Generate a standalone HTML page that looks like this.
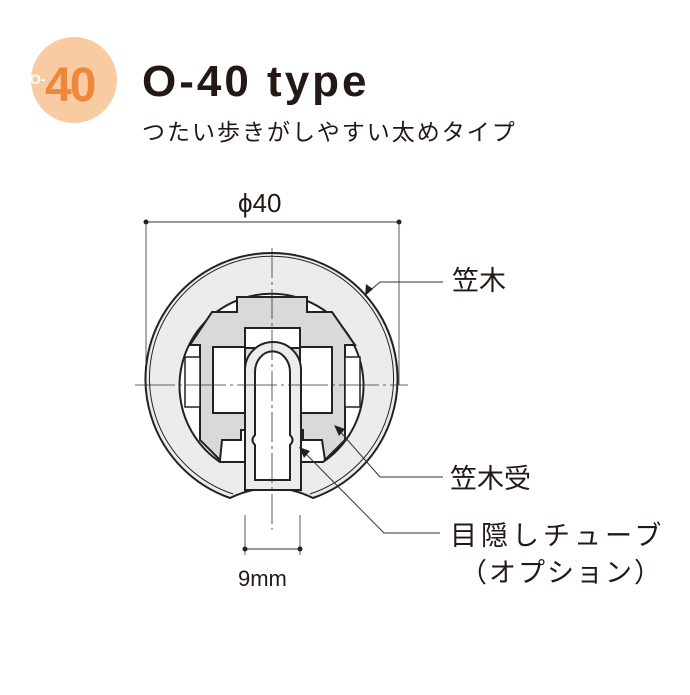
<!DOCTYPE html>
<html><head><meta charset="utf-8"><style>
body{margin:0;background:#fff;width:690px;height:690px;overflow:hidden}
</style></head><body>
<svg width="690" height="690" xmlns="http://www.w3.org/2000/svg" font-family="'Liberation Sans','Noto Sans CJK JP',sans-serif">
<circle cx="74" cy="80" r="43" fill="#f9cba3"/>
<text x="30" y="84" font-size="14" fill="#fff" font-weight="bold">O-</text>
<text x="45" y="101" font-size="48" fill="#ee873a" font-weight="bold" letter-spacing="-2">40</text>
<text x="142" y="96" font-size="44" font-weight="bold" fill="#231815" letter-spacing="3">O-40 type</text>
<text x="142" y="140" font-size="23" fill="#231815" letter-spacing="2">つたい歩きがしやすい太めタイプ</text>

<text x="238" y="212" font-size="26" fill="#231815">ϕ40</text>
<line x1="146" y1="222" x2="399" y2="222" stroke="#333" stroke-width="1"/>
<circle cx="146" cy="222" r="2.5" fill="#222"/><circle cx="399" cy="222" r="2.5" fill="#222"/>
<line x1="146" y1="222" x2="146" y2="385" stroke="#333" stroke-width="0.8"/>
<line x1="399" y1="222" x2="399" y2="385" stroke="#333" stroke-width="0.8"/>

<path d="M230,498 A126,126 0 1 1 313,498 Q272,478 230,498 Z" fill="#ececec" stroke="#222" stroke-width="2"/>
<path d="M233,494 A122,122 0 1 1 310,494" fill="none" stroke="#222" stroke-width="1"/>
<path d="M220,462 A92,92 0 1 1 323,462 L300,462 L300,490 Q272,482 245,490 L245,462 Z" fill="#fff" stroke="#222" stroke-width="2"/>
<path d="M212,312 L237,312 L237,297 L307,297 L307,312 L332,312 L355,345 L345,345 L345,410 L345,440 L325,460 L322,440 L303,440 L303,430 L300,430 L300,490 L245,490 L245,430 L241,430 L241,440 L222,440 L220,460 L200,440 L200,410 L200,345 L190,345 Z" fill="#d9d9d9" stroke="#222" stroke-width="2"/>
<rect x="213" y="347" width="32" height="66" fill="#fff" stroke="#222" stroke-width="2"/>
<rect x="300" y="347" width="32" height="66" fill="#fff" stroke="#222" stroke-width="2"/>
<rect x="245" y="328" width="55" height="20" fill="#fff" stroke="#222" stroke-width="2"/>
<rect x="185" y="357" width="15" height="50" fill="#fff" stroke="#222" stroke-width="1.5"/>
<rect x="345" y="357" width="15" height="50" fill="#fff" stroke="#222" stroke-width="1.5"/>
<path d="M245,490 L245,370 A28,28 0 0 1 301,370 L301,490 Z" fill="#ececec" stroke="#222" stroke-width="2"/>
<path d="M255,480 L255,445 Q250,440 255,435 L255,372 A17,20 0 0 1 290,372 L290,435 Q295,440 290,445 L290,480 Z" fill="#fff" stroke="#222" stroke-width="2"/>

<line x1="272" y1="248" x2="272" y2="530" stroke="#333" stroke-width="0.8" stroke-dasharray="30,4,3,4"/>
<line x1="135" y1="385" x2="408" y2="385" stroke="#333" stroke-width="0.8" stroke-dasharray="40,4,3,4"/>

<line x1="245" y1="515" x2="245" y2="555" stroke="#333" stroke-width="0.8"/>
<line x1="300" y1="515" x2="300" y2="555" stroke="#333" stroke-width="0.8"/>
<line x1="245" y1="549" x2="300" y2="549" stroke="#333" stroke-width="1"/>
<circle cx="245" cy="549" r="2.5" fill="#222"/><circle cx="300" cy="549" r="2.5" fill="#222"/>
<text x="238" y="586" font-size="22" fill="#231815">9mm</text>

<g stroke="#333" stroke-width="1" fill="none">
<polyline points="367,293 380,282 443,282"/>
<polyline points="337,428 380,477 443,477"/>
<polyline points="302,450 384,533 440,533"/>
</g>
<polygon points="365,296 366,284 373,289" fill="#222"/>
<polygon points="334,425 345,429 339,436" fill="#222"/>
<polygon points="299,447 310,451 304,458" fill="#222"/>

<g font-size="27" fill="#231815">
<text x="452" y="290">笠木</text>
<text x="450" y="488">笠木受</text>
<text x="450" y="545" letter-spacing="4">目隠しチューブ</text>
<text x="460" y="582" letter-spacing="2">（オプション）</text>
</g>
</svg>
</body></html>
